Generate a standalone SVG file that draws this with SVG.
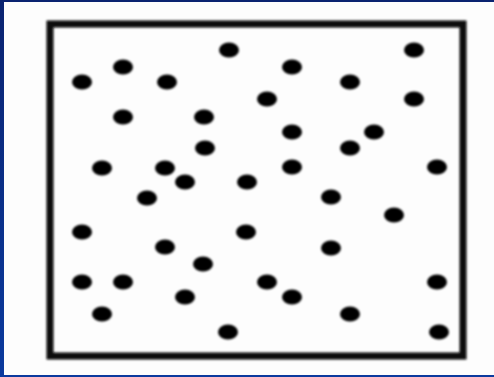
<svg xmlns="http://www.w3.org/2000/svg" width="494" height="377" viewBox="0 0 494 377">
<defs>
<style>
.dot{fill:#000}
.frame{fill:none;stroke:#0a0a0a;stroke-width:7}
</style>
<filter id="soft" x="-10%" y="-10%" width="120%" height="120%"><feGaussianBlur stdDeviation="1"/></filter>
<linearGradient id="bg" x1="0" y1="0" x2="0" y2="1"><stop offset="0" stop-color="#0a2370"/><stop offset="1" stop-color="#0b3a9e"/></linearGradient>
</defs>
<rect x="0" y="0" width="494" height="377" fill="url(#bg)"/>
<rect x="4" y="2" width="490" height="373" fill="#fdfdfd"/>
<g id="box" filter="url(#soft)">
<rect class="frame" x="50" y="24" width="413" height="332"/>
</g>
<g id="dots" filter="url(#soft)">
<ellipse class="dot" cx="229" cy="50" rx="10" ry="7.5"/>
<ellipse class="dot" cx="414" cy="50" rx="10" ry="7.5"/>
<ellipse class="dot" cx="123" cy="67" rx="10" ry="7.5"/>
<ellipse class="dot" cx="292" cy="67" rx="10" ry="7.5"/>
<ellipse class="dot" cx="82" cy="82" rx="10" ry="7.5"/>
<ellipse class="dot" cx="167" cy="82" rx="10" ry="7.5"/>
<ellipse class="dot" cx="350" cy="82" rx="10" ry="7.5"/>
<ellipse class="dot" cx="267" cy="99" rx="10" ry="7.5"/>
<ellipse class="dot" cx="414" cy="99" rx="10" ry="7.5"/>
<ellipse class="dot" cx="123" cy="117" rx="10" ry="7.5"/>
<ellipse class="dot" cx="204" cy="117" rx="10" ry="7.5"/>
<ellipse class="dot" cx="292" cy="132" rx="10" ry="7.5"/>
<ellipse class="dot" cx="374" cy="132" rx="10" ry="7.5"/>
<ellipse class="dot" cx="205" cy="148" rx="10" ry="7.5"/>
<ellipse class="dot" cx="350" cy="148" rx="10" ry="7.5"/>
<ellipse class="dot" cx="102" cy="168" rx="10" ry="7.5"/>
<ellipse class="dot" cx="165" cy="168" rx="10" ry="7.5"/>
<ellipse class="dot" cx="292" cy="167" rx="10" ry="7.5"/>
<ellipse class="dot" cx="437" cy="167" rx="10" ry="7.5"/>
<ellipse class="dot" cx="185" cy="182" rx="10" ry="7.5"/>
<ellipse class="dot" cx="247" cy="182" rx="10" ry="7.5"/>
<ellipse class="dot" cx="147" cy="198" rx="10" ry="7.5"/>
<ellipse class="dot" cx="331" cy="197" rx="10" ry="7.5"/>
<ellipse class="dot" cx="394" cy="215" rx="10" ry="7.5"/>
<ellipse class="dot" cx="82" cy="232" rx="10" ry="7.5"/>
<ellipse class="dot" cx="246" cy="232" rx="10" ry="7.5"/>
<ellipse class="dot" cx="165" cy="247" rx="10" ry="7.5"/>
<ellipse class="dot" cx="331" cy="248" rx="10" ry="7.5"/>
<ellipse class="dot" cx="203" cy="264" rx="10" ry="7.5"/>
<ellipse class="dot" cx="82" cy="282" rx="10" ry="7.5"/>
<ellipse class="dot" cx="123" cy="282" rx="10" ry="7.5"/>
<ellipse class="dot" cx="267" cy="282" rx="10" ry="7.5"/>
<ellipse class="dot" cx="437" cy="282" rx="10" ry="7.5"/>
<ellipse class="dot" cx="185" cy="297" rx="10" ry="7.5"/>
<ellipse class="dot" cx="292" cy="297" rx="10" ry="7.5"/>
<ellipse class="dot" cx="102" cy="314" rx="10" ry="7.5"/>
<ellipse class="dot" cx="350" cy="314" rx="10" ry="7.5"/>
<ellipse class="dot" cx="228" cy="332" rx="10" ry="7.5"/>
<ellipse class="dot" cx="439" cy="332" rx="10" ry="7.5"/>
</g>
</svg>
